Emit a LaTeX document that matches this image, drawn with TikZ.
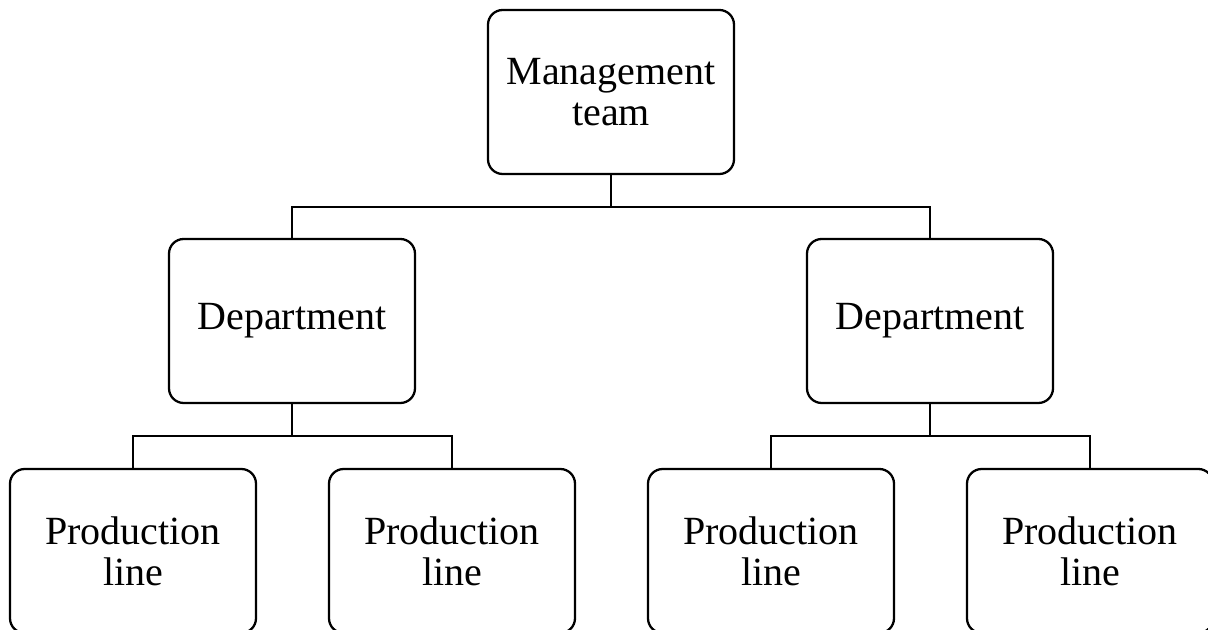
\documentclass[tikz,border=0pt]{standalone}
\usepackage{fontspec}
\setmainfont{Liberation Serif}
\begin{document}
\begin{tikzpicture}[x=0.75pt,y=-0.75pt,
  box/.style={draw=black,line width=1.7pt,rounded corners=11pt,
    minimum width=184.5pt,minimum height=123pt,align=center,inner sep=0pt,
    font=\fontsize{30}{31}\selectfont},
  link/.style={draw=black,line width=1.7pt}]
\useasboundingbox (0,0) rectangle (1208,630);
\clip (0,0) rectangle (1208,630);
\node[box] (m) at (611,92) {Management\\team};
\node[box] (dL) at (292,321) {Department};
\node[box] (dR) at (930,321) {Department};
\node[box] (p1) at (133,551) {Production\\line};
\node[box] (p2) at (452,551) {Production\\line};
\node[box] (p3) at (771,551) {Production\\line};
\node[box] (p4) at (1090,551) {Production\\line};
\coordinate (j1) at (611,207);
\coordinate (j2) at (292,436);
\coordinate (j3) at (930,436);
\draw[link] (m.south) -- (j1);
\draw[link] (dL.north) |- (j1) -| (dR.north);
\draw[link] (dL.south) -- (j2);
\draw[link] (p1.north) |- (j2) -| (p2.north);
\draw[link] (dR.south) -- (j3);
\draw[link] (p3.north) |- (j3) -| (p4.north);
\end{tikzpicture}
\end{document}
